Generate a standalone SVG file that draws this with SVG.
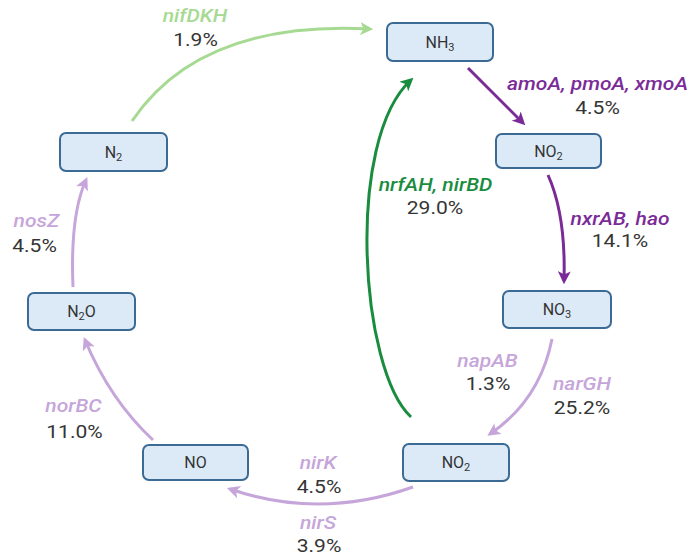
<svg xmlns="http://www.w3.org/2000/svg" width="698" height="557" viewBox="0 0 698 557">
<style>
.node rect{fill:#dceaf8;stroke:#3b6b95;stroke-width:2}
.node text{font-family:Roboto,"Liberation Sans",sans-serif;font-size:16px;fill:#333;text-anchor:middle}
.sub{font-size:11px}
.lbl{font-family:Roboto,"Liberation Sans",sans-serif;font-size:18px;text-anchor:middle}
.gene{font-style:italic;font-weight:500}
.pct{fill:#353535;font-weight:400}
.conn path{fill:none;stroke-width:3}
.lg{stroke:#a6da92}.dg{stroke:#1a8c3e}.dp{stroke:#7b2b98}.lp{stroke:#c6a6da}
</style>
<defs>
<marker id="m-lg" viewBox="0 0 12 12" refX="9" refY="6" markerWidth="13" markerHeight="13" markerUnits="userSpaceOnUse" orient="auto"><path d="M0,0 L12,6 L0,12 L3,6 Z" fill="#a6da92"/></marker>
<marker id="m-dg" viewBox="0 0 12 12" refX="9" refY="6" markerWidth="13" markerHeight="13" markerUnits="userSpaceOnUse" orient="auto"><path d="M0,0 L12,6 L0,12 L3,6 Z" fill="#1a8c3e"/></marker>
<marker id="m-dp" viewBox="0 0 12 12" refX="9" refY="6" markerWidth="13" markerHeight="13" markerUnits="userSpaceOnUse" orient="auto"><path d="M0,0 L12,6 L0,12 L3,6 Z" fill="#7b2b98"/></marker>
<marker id="m-lp" viewBox="0 0 12 12" refX="9" refY="6" markerWidth="13" markerHeight="13" markerUnits="userSpaceOnUse" orient="auto"><path d="M0,0 L12,6 L0,12 L3,6 Z" fill="#c6a6da"/></marker>
</defs>

<g id="connectors" class="conn">
<path id="c-nifDKH" class="lg" d="M132,121 Q200,20 370,29" marker-end="url(#m-lg)"/>
<path id="c-amoA" class="dp" d="M468,68 Q500,100 523,123" marker-end="url(#m-dp)"/>
<path id="c-nxrAB" class="dp" d="M548,175 Q566,215 564,281" marker-end="url(#m-dp)"/>
<path id="c-nrfAH" class="dg" d="M411,417 C360,370 345,140 411,80" marker-end="url(#m-dg)"/>
<path id="c-napAB" class="lp" d="M552,339 Q540,400 490,434" marker-end="url(#m-lp)"/>
<path id="c-nirK" class="lp" d="M413,487 Q320,520 230,489" marker-end="url(#m-lp)"/>
<path id="c-norBC" class="lp" d="M153,440 Q110,400 85,340" marker-end="url(#m-lp)"/>
<path id="c-nosZ" class="lp" d="M73,287 Q70,215 86,180" marker-end="url(#m-lp)"/>
</g>

<g id="labels" class="lbl">
<g transform="translate(195,22) scale(1.17,1)"><text class="gene" fill="#a6da92">nifDKH</text></g>
<g transform="translate(195.5,46) scale(1.17,1)"><text class="pct">1.9%</text></g>
<g transform="translate(597.5,90) scale(1.17,1)"><text class="gene" fill="#7b2b98">amoA, pmoA, xmoA</text></g>
<g transform="translate(597.5,114) scale(1.17,1)"><text class="pct">4.5%</text></g>
<g transform="translate(620,225) scale(1.17,1)"><text class="gene" fill="#7b2b98">nxrAB, hao</text></g>
<g transform="translate(620,247) scale(1.17,1)"><text class="pct">14.1%</text></g>
<g transform="translate(435.5,191) scale(1.17,1)"><text class="gene" fill="#1a8c3e">nrfAH, nirBD</text></g>
<g transform="translate(435,214) scale(1.17,1)"><text class="pct">29.0%</text></g>
<g transform="translate(487.5,367) scale(1.17,1)"><text class="gene" fill="#c6a6da">napAB</text></g>
<g transform="translate(488,390) scale(1.17,1)"><text class="pct">1.3%</text></g>
<g transform="translate(582,390) scale(1.17,1)"><text class="gene" fill="#c6a6da">narGH</text></g>
<g transform="translate(582,414) scale(1.17,1)"><text class="pct">25.2%</text></g>
<g transform="translate(318,469) scale(1.17,1)"><text class="gene" fill="#c6a6da">nirK</text></g>
<g transform="translate(319,493) scale(1.17,1)"><text class="pct">4.5%</text></g>
<g transform="translate(318,529) scale(1.17,1)"><text class="gene" fill="#c6a6da">nirS</text></g>
<g transform="translate(319,552) scale(1.17,1)"><text class="pct">3.9%</text></g>
<g transform="translate(73.5,412) scale(1.17,1)"><text class="gene" fill="#c6a6da">norBC</text></g>
<g transform="translate(74.5,438) scale(1.17,1)"><text class="pct">11.0%</text></g>
<g transform="translate(36.5,227) scale(1.17,1)"><text class="gene" fill="#c6a6da">nosZ</text></g>
<g transform="translate(34.5,252) scale(1.17,1)"><text class="pct">4.5%</text></g>
</g>

<g id="node-NH3" class="node"><rect x="387" y="23" width="106" height="38" rx="6"/><text x="440" y="48">NH<tspan class="sub" dy="3">3</tspan></text></g>
<g id="node-NO2-top" class="node"><rect x="496" y="134" width="105" height="34" rx="6"/><text x="548.5" y="157">NO<tspan class="sub" dy="3">2</tspan></text></g>
<g id="node-NO3" class="node"><rect x="503" y="291" width="108" height="37" rx="6"/><text x="557" y="315">NO<tspan class="sub" dy="3">3</tspan></text></g>
<g id="node-NO2-bottom" class="node"><rect x="403" y="444" width="106" height="37" rx="6"/><text x="456" y="468">NO<tspan class="sub" dy="3">2</tspan></text></g>
<g id="node-NO" class="node"><rect x="143" y="445" width="105" height="35" rx="6"/><text x="195.5" y="468">NO</text></g>
<g id="node-N2O" class="node"><rect x="28" y="293" width="107" height="37" rx="6"/><text x="81.5" y="317">N<tspan class="sub" dy="3">2</tspan><tspan dy="-3">O</tspan></text></g>
<g id="node-N2" class="node"><rect x="60" y="133" width="107" height="38" rx="6"/><text x="113.5" y="158">N<tspan class="sub" dy="3">2</tspan></text></g>
</svg>
